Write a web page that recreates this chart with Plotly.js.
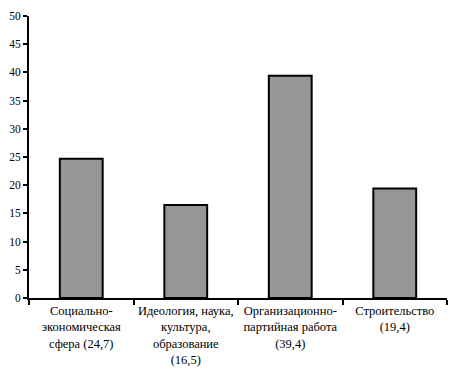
<!DOCTYPE html>
<html><head><meta charset="utf-8">
<script src="https://cdn.plot.ly/plotly-3.0.1.min.js"></script>
<style>html,body{margin:0;padding:0;background:#fff}</style>
</head><body><div id="chart" style="width:451px;height:385px"></div>
<script>
const categories = ["Социально-экономическая сфера", "Идеология, наука, культура, образование", "Организационно-партийная работа", "Строительство"];
const tickLabels = ["Социально-<br>экономическая<br>сфера (24,7)", "Идеология, наука,<br>культура,<br>образование<br>(16,5)", "Организационно-<br>партийная работа<br>(39,4)", "Строительство<br>(19,4)"];
const values = [24.7, 16.5, 39.4, 19.4];
const yTicks = [0,5,10,15,20,25,30,35,40,45,50];

Plotly.newPlot("chart", [{
  type: "bar", x: categories, y: values, width: 0.41,
  marker: {color: "#969696", line: {color: "#000", width: 2}},
  hoverinfo: "none"
}], {
  width: 451, height: 385,
  margin: {l: 29, r: 4, t: 16, b: 87},
  paper_bgcolor: "#fff", plot_bgcolor: "#fff",
  font: {family: "Liberation Serif", size: 12, color: "#000"},
  showlegend: false,
  xaxis: {type: "category", tickvals: categories, ticktext: tickLabels, tickangle: 0,
    showline: true, linecolor: "#000", linewidth: 2, ticks: "outside", ticklen: 5, tickwidth: 2,
    tickcolor: "#000", tickson: "boundaries", showgrid: false, zeroline: false,
    tickfont: {size: 12.5, color: "#000"}},
  yaxis: {range: [0, 50], tickvals: yTicks, showline: true, linecolor: "#000", linewidth: 2,
    ticks: "outside", ticklen: 4, tickwidth: 2, tickcolor: "#000", showgrid: false, zeroline: false,
    tickfont: {size: 11.5, color: "#000"}}
}, {staticPlot: true});
</script></body></html>
